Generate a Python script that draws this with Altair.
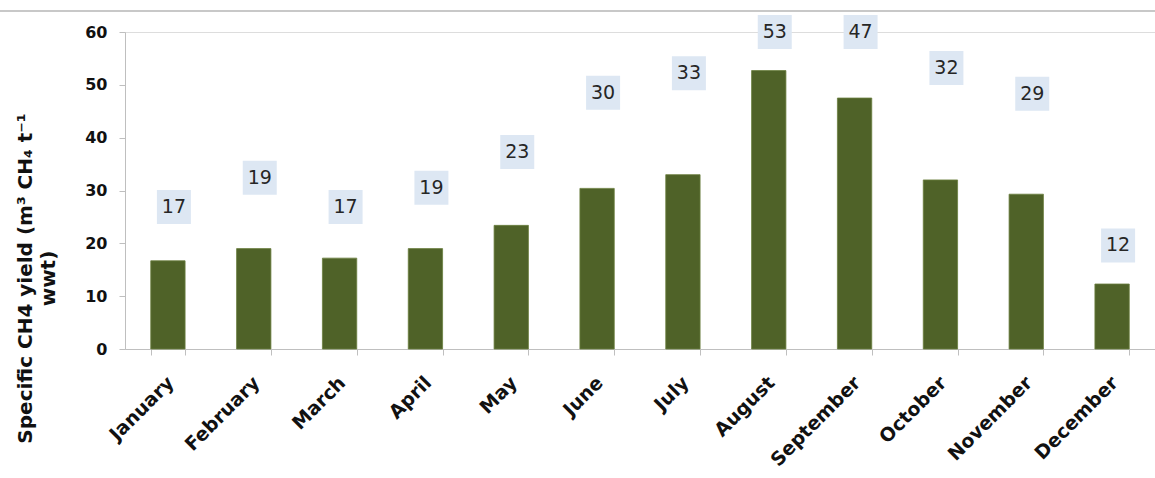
import altair as alt
import pandas as pd

months = ["January", "February", "March", "April", "May", "June", "July",
          "August", "September", "October", "November", "December"]
values = [16.7, 19.0, 17.2, 19.0, 23.4, 30.4, 33.0, 52.7, 47.5, 32.0, 29.3, 12.3]
labels = ["17", "19", "17", "19", "23", "30", "33", "53", "47", "32", "29", "12"]
label_pos = [26.9, 32.4, 26.9, 30.5, 37.3, 48.5, 52.2, 60.0, 60.0, 53.2, 48.3, 19.6]

df = pd.DataFrame({"month": months, "value": values, "label": labels, "label_y": label_pos})

FONT = "DejaVu Sans"

x_enc = alt.X("month:N", sort=months,
              scale=alt.Scale(paddingInner=0.6, paddingOuter=0.3),
              axis=alt.Axis(title=None, labelAngle=-45, labelAlign="right",
                            labelBaseline="top", labelFont=FONT, labelFontSize=19,
                            labelFontWeight="bold", labelColor="#111111",
                            labelPadding=18, labelOffset=-4, tickBand="extent", tickSize=6,
                            tickColor="#bfbfbf", domainColor="#bfbfbf",
                            labelOverlap=False))

y_scale = alt.Scale(domain=[0, 60])

bars = alt.Chart(df).mark_bar(color="#4f6228", stroke="#6b7f3f", strokeWidth=0.8).encode(
    x=x_enc,
    y=alt.Y("value:Q", scale=y_scale,
            axis=alt.Axis(title=["Specific CH4 yield (m³ CH₄ t⁻¹", "wwt)"],
                          values=[0, 10, 20, 30, 40, 50, 60], grid=False,
                          labelFont=FONT, labelFontSize=16, labelFontWeight="bold",
                          labelColor="#111111", labelPadding=12,
                          tickSize=6, tickColor="#bfbfbf", domainColor="#bfbfbf",
                          titleFont=FONT, titleFontSize=20, titleFontWeight="bold",
                          titleColor="#111111", titleAngle=-90, titleAlign="center",
                          titleBaseline="top", titleX=-110, titleY=246,
                          titleLineHeight=23)),
)

boxes = alt.Chart(df).mark_point(
    shape="M-1,-1H1V1H-1Z", size=1156, filled=True, color="#dde7f3",
    opacity=1, xOffset=6
).encode(
    x=alt.X("month:N", sort=months),
    y=alt.Y("label_y:Q", scale=y_scale),
)

texts = alt.Chart(df).mark_text(
    font=FONT, fontSize=19, color="#262626", xOffset=6, baseline="middle"
).encode(
    x=alt.X("month:N", sort=months),
    y=alt.Y("label_y:Q", scale=y_scale),
    text="label:N",
)

top_line = alt.Chart(df).mark_rule(color="#c8c8c8", strokeWidth=2).encode(
    x=alt.value(-125), x2=alt.value(1040), y=alt.value(-21)
)

chart = alt.layer(bars, boxes, texts, top_line).properties(
    width=1030, height=317,
    autosize=alt.AutoSizeParams(type="none"),
    padding={"left": 125, "top": 32, "right": 0, "bottom": 129},
).configure_view(stroke=None).configure(background="white")

chart.save("out.html", embed_options={"renderer": "svg", "actions": False})
